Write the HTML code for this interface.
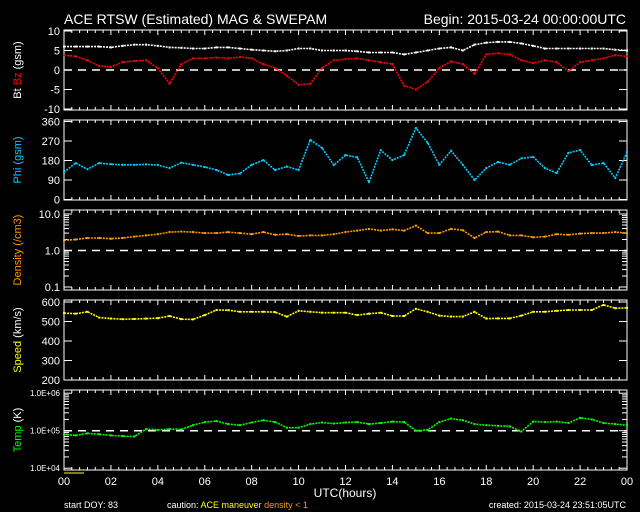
<!DOCTYPE html>
<html><head><meta charset="utf-8"><style>
html,body{margin:0;padding:0;background:#000;}
svg{display:block;font-family:"Liberation Sans",sans-serif;}
</style></head><body>
<svg id="chart" width="640" height="512" viewBox="0 0 640 512">
<rect width="640" height="512" fill="#000"/>
<text x="64" y="24" fill="#fff" font-size="14">ACE RTSW (Estimated) MAG &amp; SWEPAM</text>
<text x="626" y="24" fill="#fff" font-size="14" text-anchor="end">Begin: 2015-03-24 00:00:00UTC</text>
<text x="345" y="497" fill="#fff" font-size="12" text-anchor="middle">UTC(hours)</text>
<text x="64" y="508" fill="#fff" font-size="9">start DOY:  83</text>
<text x="167" y="508" font-size="9"><tspan fill="#fff">caution: </tspan><tspan fill="#ffff00">ACE maneuver </tspan><tspan fill="#ff9900">density &lt; 1</tspan></text>
<text x="626" y="508" fill="#fff" font-size="9" text-anchor="end">created: 2015-03-24 23:51:05UTC</text>
<line x1="64" y1="473" x2="84" y2="473" stroke="#ffff00" stroke-width="1"/>
<g id="layer"></g>
</svg>
<script>
const hours = [0,0.5,1,1.5,2,2.5,3,3.5,4,4.5,5,5.5,6,6.5,7,7.5,8,8.5,9,9.5,10,10.5,11,11.5,12,12.5,13,13.5,14,14.5,15,15.5,16,16.5,17,17.5,18,18.5,19,19.5,20,20.5,21,21.5,22,22.5,23,23.5,24];
const btValues = [6,6,6,6,5.8,6.2,6.5,6.5,6.2,5.8,5.7,5.5,5.5,5.8,5.8,5.5,5.2,5,4.8,5,5.5,5.5,5,5,5,4.8,4.5,4.5,4.5,4,4.5,5,5.5,5.8,5,6.5,7,7.2,7.2,6.8,6.2,5.5,5.5,5.5,5.5,5.5,5.5,5.2,5];
const bzValues = [3.8,3.5,2.5,1,0.8,2,2.3,2.5,0.5,-3.5,1.5,3,3,3.2,3,3.3,3,1.5,0.5,-1.5,-3.8,-3.5,0.5,2.5,2.8,3,2.5,2,1.5,-4,-5,-3,0.5,2.2,1.5,-1,4,4.3,4,2.5,1.8,2.5,2,-0.3,2,2.5,3,3.8,3.5];
const phiValues = [127,168,140,168,163,160,160,162,159,145,170,160,150,136,113,120,160,182,136,152,136,275,238,159,205,195,80,228,182,205,330,262,160,225,160,90,145,173,160,190,196,145,122,215,228,159,168,99,219];
const densityValues = [1.9,2.0,2.2,2.2,2.1,2.2,2.4,2.6,2.8,3.2,3.3,3.2,3.0,3.0,3.2,3.0,2.8,3.2,2.7,2.8,2.5,2.6,2.6,2.8,3.2,3.5,3.9,3.5,3.8,3.5,4.8,3.0,3.0,3.9,3.6,2.2,3.2,3.3,2.6,2.6,2.3,2.4,2.8,2.7,2.9,3.0,3.0,3.2,3.0];
const speedValues = [543,540,550,520,515,512,513,515,517,528,512,511,533,559,558,550,550,550,548,525,555,550,545,545,545,533,540,545,528,528,565,550,530,525,525,550,515,516,516,530,550,550,555,559,559,559,585,568,570];
const tempValues = [80000,75000,85000,80000,75000,72000,70000,110000,105000,110000,108000,140000,170000,180000,150000,140000,165000,190000,170000,120000,120000,150000,165000,155000,165000,170000,150000,160000,175000,170000,100000,105000,170000,210000,190000,150000,140000,135000,130000,95000,175000,170000,175000,160000,220000,200000,160000,150000,140000];
const xTickLabels = ["00","02","04","06","08","10","12","14","16","18","20","22","00"];
const bzTicks = [10,5,0,-5,-10];
const phiTicks = [360,270,180,90,0];
const densityTicks = [10,1,0.1];
const densityTickLabels = ["10.0","1.0","0.1"];
const speedTicks = [600,500,400,300,200];
const tempTicks = [1e6,1e5,1e4];
const tempTickLabels = ["1.0E+06","1.0E+05","1.0E+04"];

const NS = "http://www.w3.org/2000/svg";
const layer = document.getElementById("layer");
const X0 = 64, X1 = 627;
function xScale(h){ return X0 + h*(X1-X0)/24; }
const yBz = v => 70 - v*3.9;
const yPhi = v => 199.5 - v*78/360;
const yDen = v => 250.5 - 36.5*Math.log10(v);
const ySpd = v => 380 - (v-200)*0.195;
const yTmp = v => 430.7 - 37.5*(Math.log10(v)-5);

function mk(tag, attrs){
  const el = document.createElementNS(NS, tag);
  for (const k in attrs) el.setAttribute(k, attrs[k]);
  layer.appendChild(el);
  return el;
}
function panel(name, top, bottom, yFn, ticks, labels, fs, logMinor){
  const box = mk("rect", {x:X0, y:top, width:X1-X0, height:bottom-top, fill:"none", stroke:"#fff", "stroke-width":1});
  
  
  for (let m = 0; m <= 72; m++){
    const x = xScale(m/3);
    const len = (m % 6 === 0) ? 5 : 3;
    const t1 = mk("line", {x1:x, y1:top, x2:x, y2:top+len, stroke:"#fff", "stroke-width":1});
    
    
    const t2 = mk("line", {x1:x, y1:bottom, x2:x, y2:bottom-len, stroke:"#fff", "stroke-width":1});
    
    
  }
  ticks.forEach((v, i) => {
    const y = yFn(v);
    const a = mk("line", {x1:X0, y1:y, x2:X0+8, y2:y, stroke:"#fff", "stroke-width":1});
    
    
    const b = mk("line", {x1:X1, y1:y, x2:X1-8, y2:y, stroke:"#fff", "stroke-width":1});
    
    
    const t = mk("text", {x:X0-4, y:y+fs*0.38, fill:"#fff", "font-size":fs, "text-anchor":"end"});
    t.textContent = labels ? labels[i] : String(v);
    
    
  });
  if (logMinor){
    for (let i = 0; i < ticks.length-1; i++){
      const lo = ticks[i+1];
      for (let k = 2; k <= 9; k++){
        const y = yFn(lo*k);
        const a = mk("line", {x1:X0, y1:y, x2:X0+5, y2:y, stroke:"#fff", "stroke-width":1});
        
        
        const b = mk("line", {x1:X1, y1:y, x2:X1-5, y2:y, stroke:"#fff", "stroke-width":1});
        
        
      }
    }
  }
}
function refLine(name, y){
  const l = mk("line", {x1:X0, y1:y, x2:X1, y2:y, stroke:"#fff", "stroke-width":1.5, "stroke-dasharray":"8,6"});
  
  
}
function series(name, values, yFn, color){
  const pts = values.map((v, i) => xScale(hours[i]).toFixed(1) + "," + yFn(v).toFixed(1)).join(" ");
  const pl = mk("polyline", {points:pts, fill:"none", stroke:color, "stroke-width":1.6, "stroke-dasharray":"2,1", "stroke-linejoin":"round"});
  
  
  values.forEach((v, i) => {
    const r = mk("rect", {x:xScale(hours[i])-1, y:yFn(v)-1, width:2, height:2, fill:color});
    
    
  });
}
function yTitle(name, y, parts){
  const t = mk("text", {x:0, y:0, "font-size":11, "text-anchor":"middle", transform:"translate(21," + y + ") rotate(-90)"});
  
  
  parts.forEach(p => {
    const s = document.createElementNS(NS, "tspan");
    s.setAttribute("fill", p[1]);
    s.textContent = p[0];
    t.appendChild(s);
  });
}

panel("bz-panel", 30, 110, yBz, bzTicks, null, 11, false);
panel("phi-panel", 120, 200, yPhi, phiTicks, null, 11, false);
panel("density-panel", 210, 290, yDen, densityTicks, densityTickLabels, 11, true);
panel("speed-panel", 300, 380, ySpd, speedTicks, null, 11, false);
panel("temp-panel", 390, 470, yTmp, tempTicks, tempTickLabels, 8, true);

refLine("bz-zero-line", yBz(0));
refLine("density-ref-line", yDen(1));
refLine("temp-ref-line", yTmp(1e5));

series("bt", btValues, yBz, "#ffffff");
series("bz", bzValues, yBz, "#ff0000");
series("phi", phiValues, yPhi, "#00ccff");
series("density", densityValues, yDen, "#ff9900");
series("speed", speedValues, ySpd, "#ffff00");
series("temp", tempValues, yTmp, "#00ff00");

xTickLabels.forEach((s, i) => {
  const t = mk("text", {x:xScale(i*2), y:485, fill:"#fff", "font-size":11, "text-anchor":"middle"});
  t.textContent = s;
  
  
});

yTitle("bz-y-title", 70, [["Bt ","#fff"],["Bz","#ff0000"],["  (gsm)","#fff"]]);
yTitle("phi-y-title", 160, [["Phi","#00ccff"],["  (gsm)","#00ccff"]]);
yTitle("density-y-title", 250, [["Density","#ff9900"],["  (/cm3)","#ff9900"]]);
yTitle("speed-y-title", 340, [["Speed","#ffff00"],["  (km/s)","#fff"]]);
yTitle("temp-y-title", 430, [["Temp","#00ff00"],["  (K)","#fff"]]);
</script>
</body></html>
